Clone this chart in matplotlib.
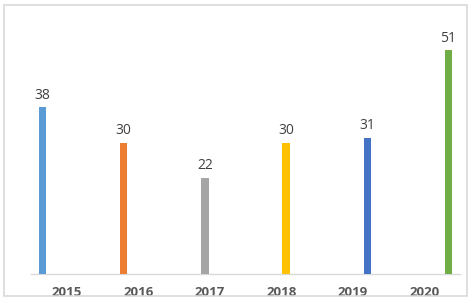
import matplotlib
matplotlib.use("Agg")
import matplotlib.pyplot as plt
from matplotlib.patches import Rectangle
import numpy as np

years = ["2015", "2016", "2017", "2018", "2019", "2020"]
values = [38, 30, 22, 30, 31, 51]
colors = ["#5B9BD5", "#ED7D31", "#A5A5A5", "#FFC000", "#4472C4", "#70AD47"]

plt.rcParams['font.family'] = ['Open Sans', 'DejaVu Sans']

fig = plt.figure(figsize=(4.73, 3.03), dpi=100)
W, H = 473, 303
ax = fig.add_axes([31 / W, (H - 274) / H, (460 - 31) / W, (274 - 11) / H])

n = len(years)
step = 0.1356
bw = 0.105
x = np.arange(n)
for j in range(n):
    pos = x[j] + (j - (n - 1) / 2) * step
    ax.bar(pos, values[j], width=bw, color=colors[j], zorder=3)
    ax.text(pos, values[j] + 1.1, str(values[j]), ha='center', va='bottom',
            fontsize=10, color='#404040')

ax.set_xlim(-0.5, n - 0.5)
ax.set_ylim(0, 60)
ax.set_xticks(x)
ax.set_xticklabels(years, fontsize=9.5, fontweight='bold', color='#595959')
ax.tick_params(axis='x', length=0, pad=8.5)
ax.set_yticks([])
for s in ['top', 'right', 'left']:
    ax.spines[s].set_visible(False)
ax.spines['bottom'].set_color('#D9D9D9')
ax.spines['bottom'].set_linewidth(1.0)

# white strip hiding the text below the chart border
fig.patches.append(Rectangle((0, 0), 1, (H - 296) / H, transform=fig.transFigure,
                             facecolor='white', edgecolor='none', zorder=10))
fig.patches.append(Rectangle((4 / W, (H - 295.5) / H), (467 - 4) / W, (295.5 - 4.5) / H,
                             transform=fig.transFigure, fill=False,
                             edgecolor='#D9D9D9', linewidth=1.2, zorder=11))

fig.savefig("out.png", dpi=100)
